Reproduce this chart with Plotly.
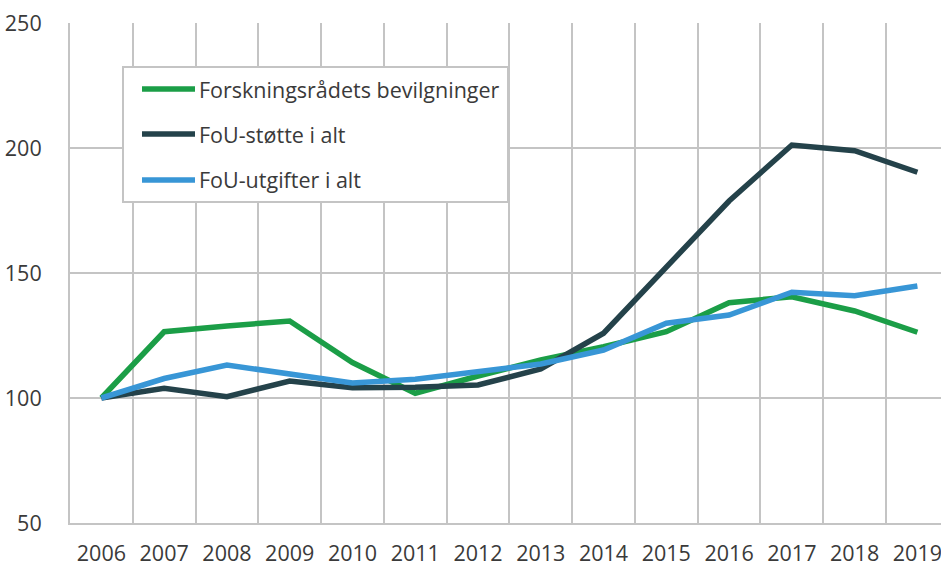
import plotly.graph_objects as go

years = ["2006", "2007", "2008", "2009", "2010", "2011", "2012", "2013", "2014",
         "2015", "2016", "2017", "2018", "2019"]
forskningsradet = [100, 126.5, 128.8, 130.8, 114.2, 101.9, 108.8, 115.2, 120.5,
                   126.5, 138.1, 140.5, 134.8, 126.3]
fou_stotte = [100, 103.9, 100.5, 106.8, 104.1, 104.3, 105.2, 111.6, 125.9,
              152.1, 178.8, 201.2, 198.9, 190.3]
fou_utgifter = [100, 107.8, 113.2, 109.4, 106.0, 107.5, 110.3, 113.6, 119.2,
                129.9, 133.2, 142.3, 140.9, 144.8]

series_names = ["Forskningsrådets bevilgninger", "FoU-støtte i alt", "FoU-utgifter i alt"]
series_values = [forskningsradet, fou_stotte, fou_utgifter]
colors = ["#1b9e47", "#24424a", "#3896d6"]

W, H = 941, 563
ML, MR, MT, MB = 70, 0, 23, 40
pw, ph = W - ML - MR, H - MT - MB
step = 62.77

fig = go.Figure()
for name, vals, col in zip(series_names, series_values, colors):
    fig.add_trace(go.Scatter(x=years, y=vals, mode="lines", name=name,
                             line=dict(color=col, width=5.5), showlegend=False,
                             cliponaxis=False))

font = dict(family="Open Sans", size=21.5, color="#3a3a3a")
grid = "#c4c4c4"

fig.update_layout(
    width=W, height=H,
    margin=dict(l=ML, r=MR, t=MT, b=MB, pad=0, autoexpand=False),
    plot_bgcolor="white", paper_bgcolor="white",
    font=font,
    xaxis=dict(type="category", range=[-0.5, -0.5 + pw / step],
               tickson="boundaries", showgrid=True, gridcolor=grid, gridwidth=2,
               showline=True, linecolor=grid, linewidth=2, ticks="",
               ticklabelstandoff=10, tickfont=font, fixedrange=True, automargin=False),
    yaxis=dict(range=[50, 250], tickvals=[50, 100, 150, 200, 250],
               showgrid=True, gridcolor=grid, gridwidth=2,
               showline=True, linecolor=grid, linewidth=2, ticks="",
               ticklabelstandoff=22, tickfont=font, zeroline=False, fixedrange=True,
               automargin=False),
)

def px(x):
    return (x - ML) / pw

def py(y):
    return (H - MB - y) / ph

# legend box
fig.add_shape(type="rect", xref="paper", yref="paper",
              x0=px(123), x1=px(508), y0=py(202), y1=py(67),
              line=dict(color=grid, width=2), fillcolor="white", layer="above")
leg_y = [89, 134, 180]
for name, col, yy in zip(series_names, colors, leg_y):
    fig.add_shape(type="line", xref="paper", yref="paper",
                  x0=px(142), x1=px(195), y0=py(yy), y1=py(yy),
                  line=dict(color=col, width=5.5), layer="above")
    fig.add_annotation(xref="paper", yref="paper", x=px(197), y=py(yy),
                       text=name, showarrow=False, xanchor="left", yanchor="middle",
                       font=font)

fig.write_html("out.html", config={"displayModeBar": False},
               post_script="document.body.style.margin='0';document.body.style.overflow='hidden';")
